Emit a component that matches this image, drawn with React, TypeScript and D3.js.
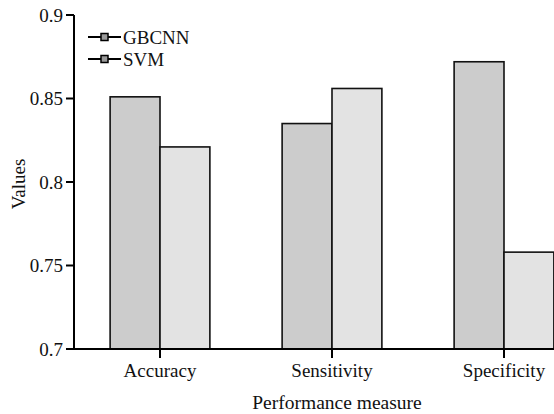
import React from 'react';
import * as d3 from 'd3';

// values
const categories = ['Accuracy', 'Sensitivity', 'Specificity'];
const seriesNames = ['GBCNN', 'SVM'];
const gbcnnValues = [0.851, 0.835, 0.872];
const svmValues = [0.821, 0.856, 0.758];
const yTicks = [0.7, 0.75, 0.8, 0.85, 0.9];
const seriesColors = ['#cccccc', '#e3e3e3'];

const W = 554;
const H = 414;
const left = 74;
const top = 15;
const bottom = 349;
const font = "'Liberation Serif', 'DejaVu Serif', serif";

const App = () => {
  const x = d3.scaleBand<string>()
    .domain(categories)
    .range([left, left + 3 * 172])
    .paddingInner(0.42)
    .paddingOuter(0.21);

  const xSub = d3.scaleBand<string>()
    .domain(seriesNames)
    .range([0, x.bandwidth()]);

  const y = d3.scaleLinear().domain([0.7, 0.9]).range([bottom, top]);

  const rows = categories.map((c, i) => ({ cat: c, vals: [gbcnnValues[i], svmValues[i]] }));
  const txt = { fontFamily: font, fill: '#111' };

  return (
    <svg width={W} height={H} style={{ position: 'fixed', left: 0, top: 0, background: '#fff', fontFamily: font }}>
      {/* bars */}
      {rows.map(r => (
        <g key={r.cat} transform={`translate(${x(r.cat)},0)`}>
          {r.vals.map((v, j) => (
            <rect key={j}
              x={xSub(seriesNames[j])}
              y={y(v)}
              width={xSub.bandwidth()}
              height={bottom - y(v)}
              fill={seriesColors[j]}
              stroke="#111"
              strokeWidth={1.6} />
          ))}
        </g>
      ))}

      {/* y axis */}
      <line x1={left} x2={left} y1={top} y2={bottom} stroke="#000" strokeWidth={2} />
      {yTicks.map(t => (
        <g key={t}>
          <line x1={left - 8} x2={left} y1={y(t)} y2={y(t)} stroke="#000" strokeWidth={2} />
          <text x={left - 11} y={y(t)} dy="0.35em" textAnchor="end" fontSize={19} style={txt}>{t}</text>
        </g>
      ))}
      <text transform={`translate(25,${(top + bottom) / 2 + 2}) rotate(-90)`} textAnchor="middle"
        fontSize={19} style={txt}>Values</text>

      {/* x axis */}
      <line x1={left} x2={W} y1={bottom} y2={bottom} stroke="#000" strokeWidth={2} />
      {categories.map(c => {
        const cx = (x(c) as number) + x.bandwidth() / 2;
        return (
          <g key={c}>
            <line x1={cx} x2={cx} y1={bottom} y2={bottom + 9} stroke="#000" strokeWidth={2} />
            <text x={cx} y={377} textAnchor="middle" fontSize={19} style={txt}>{c}</text>
          </g>
        );
      })}
      <text x={337} y={409} textAnchor="middle" fontSize={19.5} style={txt}>Performance measure</text>

      {/* legend */}
      {seriesNames.map((s, i) => {
        const ly = 37 + i * 22;
        return (
          <g key={s}>
            <line x1={88} x2={121} y1={ly} y2={ly} stroke="#000" strokeWidth={2} />
            <rect x={101} y={ly - 3.5} width={7} height={7} fill="#999" stroke="#000" strokeWidth={1.5} />
            <text x={123} y={ly} dy="0.35em" fontSize={19} style={txt}>{s}</text>
          </g>
        );
      })}
    </svg>
  );
};

export default App;
